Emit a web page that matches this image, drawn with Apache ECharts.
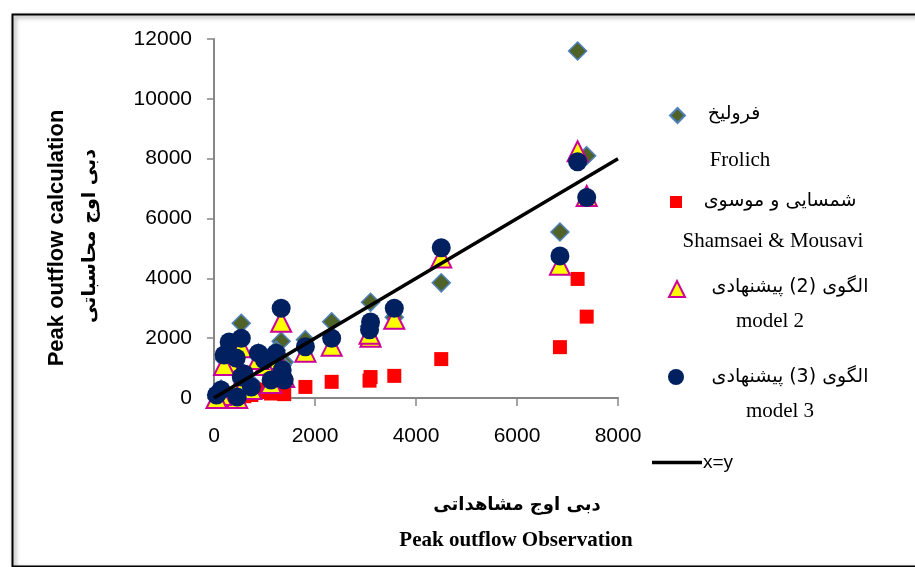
<!DOCTYPE html>
<html>
<head>
<meta charset="utf-8">
<script src="https://cdn.jsdelivr.net/npm/echarts@6/dist/echarts.min.js"></script>
<style>html,body{margin:0;padding:0;background:#fff}#c{width:915px;height:567px}</style>
</head>
<body>
<div id="c"></div>
<script>
// Observed peak outflow (x)
const observed = [7200, 7380, 6850, 4500, 3570, 3100, 3080, 2330, 1810, 1330, 1390, 1350, 1230, 1130, 1000, 880, 740, 540, 540, 460, 440, 300, 200, 140, 50, 600];
// Calculated peak outflow by each method (y)
const frolich   = [11600, 8100, 5550, 3850, 2700, 3200, 2400, 2550, 1950, 1900, 1200, 1100, 1600, 900, 1400, 1500, 500, 2500, 900, 200, 1500, 1600, 1300, 300, 100, 800];
const shamsaei  = [3980, 2720, 1700, 1300, 740, 700, 580, 540, 370, 170, 130, 200, 250, 150, 280, 200, 100, 100, 80, 50, 60, 40, 30, 20, 10, 60];
const model2    = [8250, 6750, 4450, 4700, 2650, 2050, 2150, 1750, 1550, 2550, 700, 1000, 1300, 500, 1100, 1300, 300, 1700, 600, 0, 1200, 1200, 1100, 100, 0, 500];
const model3    = [7900, 6700, 4750, 5020, 3000, 2540, 2280, 2000, 1710, 3000, 600, 940, 1500, 600, 1270, 1500, 370, 2000, 700, 30, 1340, 1870, 1440, 270, 100, 800];
const identityLine = [[0, 0], [8000, 8000]];
const xTicks = [0, 2000, 4000, 6000, 8000];
const yTicks = [0, 2000, 4000, 6000, 8000, 10000, 12000];

const pairs = ys => observed.map((x, i) => [x, ys[i]]);

const chart = echarts.init(document.getElementById('c'), null, {renderer: 'canvas'});
const axisColor = '#868686';
const legendIcon = (name, left, top, w, h) => ({
  data: [name], left: left, top: top, itemWidth: w, itemHeight: h,
  formatter: () => '', selectedMode: false, padding: 0
});

const persian = '"DejaVu Sans", "Noto Sans", sans-serif';
const serif = '"Liberation Serif", "DejaVu Serif", serif';
const sans = '"Liberation Sans", Arial, sans-serif';

chart.setOption({
  animation: false,
  backgroundColor: '#fff',
  grid: {left: 214, top: 39, right: 297, bottom: 169, containLabel: false},
  xAxis: {
    type: 'value', min: xTicks[0], max: xTicks[xTicks.length - 1], interval: 2000,
    axisLine: {show: true, lineStyle: {color: axisColor, width: 2}},
    axisTick: {show: true, inside: false, length: 8, lineStyle: {color: axisColor, width: 1.5}},
    splitLine: {show: false},
    axisLabel: {margin: 28, color: '#000', fontSize: 21, fontFamily: sans, formatter: v => String(v)}
  },
  yAxis: {
    type: 'value', min: yTicks[0], max: yTicks[yTicks.length - 1], interval: 2000,
    axisLine: {show: true, lineStyle: {color: axisColor, width: 2}},
    axisTick: {show: true, inside: false, length: 7, lineStyle: {color: axisColor, width: 1.5}},
    splitLine: {show: false},
    axisLabel: {margin: 22, color: '#000', fontSize: 21, fontFamily: sans, formatter: v => String(v)}
  },
  legend: [
    legendIcon('Frolich', 669, 107, 15, 15),
    legendIcon('Shamsaei & Mousavi', 670, 196, 12, 12),
    legendIcon('model 2', 668, 280, 16, 16),
    legendIcon('model 3', 668, 369, 16, 16),
    {data: [{name: 'x=y', icon: 'rect'}], left: 652, top: 453, itemWidth: 50, itemHeight: 3.5, selectedMode: false, padding: 0,
     textStyle: {fontSize: 19, color: '#000', fontFamily: sans, padding: [0, 0, 0, -4]}}
  ],
  series: [
    {name: 'Frolich', type: 'scatter', symbol: 'diamond', symbolSize: 18, clip: false,
     itemStyle: {color: '#4F6228', borderColor: '#4F81BD', borderWidth: 1.5, opacity: 1}, data: pairs(frolich)},
    {name: 'Shamsaei & Mousavi', type: 'scatter', symbol: 'rect', symbolSize: 14, clip: false,
     itemStyle: {color: '#FF0000', borderColor: '#FF0000', borderWidth: 0, opacity: 1}, data: pairs(shamsaei)},
    {name: 'model 2', type: 'scatter', symbol: 'triangle', symbolSize: 20, clip: false,
     itemStyle: {color: '#FFFF00', borderColor: '#CC0099', borderWidth: 2, opacity: 1}, data: pairs(model2)},
    {name: 'model 3', type: 'scatter', symbol: 'circle', symbolSize: 19, clip: false,
     itemStyle: {color: '#002060', borderColor: '#002060', borderWidth: 0, opacity: 1}, data: pairs(model3)},
    {name: 'x=y', type: 'line', symbol: 'none', showSymbol: false, z: 5,
     lineStyle: {color: '#000', width: 3.5}, itemStyle: {color: '#000'}, data: identityLine}
  ],
  graphic: [
    {type: 'rect', left: 10, top: 12, shape: {x: 0, y: 0, width: 930, height: 552}, silent: true, z: -1,
     style: {fill: 'none', stroke: '#000', lineWidth: 2, shadowBlur: 4, shadowOffsetX: 2, shadowOffsetY: 2, shadowColor: 'rgba(0,0,0,0.45)'}},
    // Y axis title
    {type: 'text', x: 57, y: 238, rotation: Math.PI / 2,
     style: {text: 'Peak outflow calculation', align: 'center', verticalAlign: 'middle', fill: '#000',
       font: 'bold 22px ' + sans}},
    {type: 'text', x: 90, y: 236, rotation: Math.PI / 2,
     style: {text: 'دبی اوج محاسباتی', align: 'center', verticalAlign: 'middle', fill: '#000',
       font: 'bold 19px ' + persian}},
    // X axis title
    {type: 'text', x: 517, y: 505,
     style: {text: 'دبی اوج مشاهداتی', align: 'center', verticalAlign: 'middle', fill: '#000',
       font: 'bold 18px ' + persian}},
    {type: 'text', x: 516, y: 541,
     style: {text: 'Peak outflow Observation', align: 'center', verticalAlign: 'middle', fill: '#000',
       font: 'bold 21px ' + serif}},
    // Legend texts
    {type: 'text', x: 734, y: 114, style: {text: 'فروليخ', align: 'center', verticalAlign: 'middle', fill: '#000', font: '19px ' + persian}},
    {type: 'text', x: 740, y: 160, style: {text: 'Frolich', align: 'center', verticalAlign: 'middle', fill: '#000', font: '21px ' + serif}},
    {type: 'text', x: 780, y: 201, style: {text: 'شمسایی و موسوی', align: 'center', verticalAlign: 'middle', fill: '#000', font: '19px ' + persian}},
    {type: 'text', x: 773, y: 241, style: {text: 'Shamsaei & Mousavi', align: 'center', verticalAlign: 'middle', fill: '#000', font: '21px ' + serif}},
    {type: 'text', x: 790, y: 287, style: {text: 'الگوی (2) پیشنهادی', align: 'center', verticalAlign: 'middle', fill: '#000', font: '19px ' + persian}},
    {type: 'text', x: 770, y: 321, style: {text: 'model 2', align: 'center', verticalAlign: 'middle', fill: '#000', font: '21px ' + serif}},
    {type: 'text', x: 790, y: 377, style: {text: 'الگوی (3) پیشنهادی', align: 'center', verticalAlign: 'middle', fill: '#000', font: '19px ' + persian}},
    {type: 'text', x: 780, y: 411, style: {text: 'model 3', align: 'center', verticalAlign: 'middle', fill: '#000', font: '21px ' + serif}}
  ]
});
</script>
</body>
</html>
